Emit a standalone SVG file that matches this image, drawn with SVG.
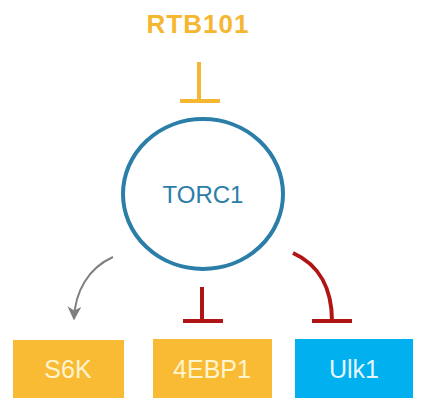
<svg xmlns="http://www.w3.org/2000/svg" width="422" height="398" viewBox="0 0 422 398">
<defs>
<style>
.box{stroke:none}
.lbl{font-family:"Liberation Sans","DejaVu Sans",sans-serif;font-size:25px;text-anchor:middle}
.inh{fill:none;stroke:#b01414;stroke-width:4}
.inhy{fill:none;stroke:#f5b731;stroke-width:4}
</style>
<marker id="arr" viewBox="0 0 10 10" refX="9" refY="5" markerWidth="7" markerHeight="7" orient="auto" markerUnits="strokeWidth">
<path d="M0,0 L10,5 L0,10 L3,5 z" fill="#808080"/>
</marker>
</defs>
<rect width="422" height="398" fill="#ffffff"/>
<g id="RTB101">
<text x="198" y="33" font-family="'Liberation Sans','DejaVu Sans',sans-serif" font-size="26" font-weight="bold" fill="#f5b731" text-anchor="middle" letter-spacing="1">RTB101</text>
</g>
<g id="TORC1">
<ellipse cx="203" cy="194" rx="80" ry="75" fill="none" stroke="#2a7ea8" stroke-width="4"/>
<text x="203" y="203" font-family="'Liberation Sans','DejaVu Sans',sans-serif" font-size="24" fill="#2a7ea8" text-anchor="middle">TORC1</text>
</g>
<g id="S6K">
<rect class="box" x="13" y="340" width="111" height="58" fill="#f9bb33"/>
<text class="lbl" x="68" y="378" fill="#fff4d0">S6K</text>
</g>
<g id="4EBP1">
<rect class="box" x="153" y="339" width="119" height="59" fill="#f9bb33"/>
<text class="lbl" x="212" y="378" fill="#fff4d0">4EBP1</text>
</g>
<g id="Ulk1">
<rect class="box" x="295" y="339" width="118" height="59" fill="#00b0ef"/>
<text class="lbl" x="354" y="378" fill="#e6f6ff">Ulk1</text>
</g>
<g id="connectors">
<path class="inhy" d="M199,62 V101 M180,101 H220"/>
<path d="M113,257 C88,268 75,292 74,319" fill="none" stroke="#808080" stroke-width="2" marker-end="url(#arr)"/>
<path class="inh" d="M202,287 V321 M183,321 H223"/>
<path class="inh" d="M293,253 C320,265 332,290 332,321 M312,321 H352"/>
</g>
</svg>
